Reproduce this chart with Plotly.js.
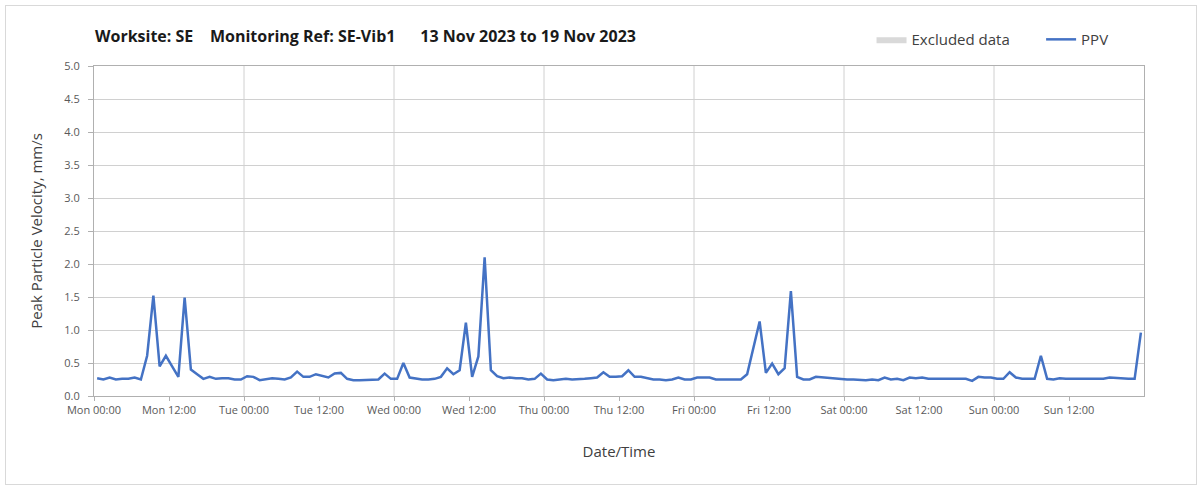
<!DOCTYPE html>
<html>
<head>
<meta charset="utf-8">
<script src="https://cdn.plot.ly/plotly-3.0.1.min.js"></script>
<style>
  html, body { margin: 0; padding: 0; background: #ffffff; }
  #wrap { position: relative; width: 1203px; height: 490px; }
  #chart { position: absolute; left: 0; top: 0; width: 1203px; height: 490px; }
  #frame { position: absolute; left: 5px; top: 5px; width: 1190px; height: 478px; border: 1px solid #d9d9d9; pointer-events: none; }
</style>
</head>
<body>
<div id="wrap"><div id="chart"></div><div id="frame"></div></div>
<script>
// Hourly PPV readings, Mon 13 Nov 2023 00:30 onwards (one value per hour)
const startTime = '2023-11-13T00:30:00Z';
const ppvMon = [0.27,0.25,0.28,0.25,0.26,0.26,0.28,0.25,0.61,1.52,0.45,0.61,0.45,0.29,1.49,0.40,0.33,0.26,0.29,0.26,0.27,0.27,0.25,0.25];
const ppvTue = [0.30,0.29,0.24,0.25,0.27,0.26,0.25,0.28,0.37,0.29,0.29,0.33,0.31,0.28,0.34,0.35,0.26,0.24,0.24,0.24,0.24,0.25,0.34,0.26];
const ppvWed = [0.26,0.50,0.28,0.26,0.25,0.25,0.26,0.29,0.42,0.33,0.39,1.11,0.29,0.60,2.10,0.39,0.30,0.27,0.28,0.27,0.27,0.25,0.26,0.34];
const ppvThu = [0.25,0.24,0.25,0.26,0.25,0.25,0.26,0.27,0.28,0.36,0.29,0.29,0.30,0.39,0.29,0.29,0.27,0.25,0.25,0.24,0.25,0.28,0.25,0.25];
const ppvFri = [0.28,0.28,0.28,0.25,0.25,0.25,0.25,0.25,0.33,0.75,1.13,0.35,0.49,0.33,0.42,1.59,0.29,0.25,0.25,0.29,0.28,0.27,0.26,0.26];
const ppvSat = [0.25,0.25,0.24,0.24,0.25,0.24,0.28,0.25,0.26,0.24,0.28,0.27,0.28,0.26,0.26,0.26,0.26,0.27,0.27,0.26,0.23,0.29,0.28,0.28];
const ppvSun = [0.26,0.26,0.36,0.28,0.26,0.26,0.26,0.61,0.26,0.25,0.27,0.26,0.26,0.27,0.27,0.27,0.26,0.26,0.28,0.27,0.26,0.26,0.26,0.96];
const days = ['2023-11-13','2023-11-14','2023-11-15','2023-11-16','2023-11-17','2023-11-18','2023-11-19'];
const tickHours = ['00:00', '12:00'];
const titleText = 'Worksite: SE\u00a0\u00a0\u00a0\u00a0Monitoring Ref: SE-Vib1\u00a0\u00a0\u00a0\u00a0\u00a0\u00a013 Nov 2023 to 19 Nov 2023';

const ppv = [].concat(ppvMon, ppvTue, ppvWed, ppvThu, ppvFri, ppvSat, ppvSun);
const t0 = Date.parse(startTime);
function fmt(ms) {
  const d = new Date(ms);
  const p = n => String(n).padStart(2, '0');
  return d.getUTCFullYear() + '-' + p(d.getUTCMonth() + 1) + '-' + p(d.getUTCDate()) + ' ' + p(d.getUTCHours()) + ':' + p(d.getUTCMinutes());
}
const times = ppv.map((v, i) => fmt(t0 + i * 3600000));
const tickVals = [];
days.forEach(d => tickHours.forEach(h => tickVals.push(d + ' ' + h)));

const FONT = '"Open Sans", "Noto Sans", sans-serif';
const legendFont = { family: FONT, size: 15, color: '#404040' };

const traces = [
  {
    type: 'scatter', mode: 'lines', name: 'Excluded data', legend: 'legend',
    x: [null], y: [null], fill: 'toself', fillcolor: '#d9d9d9',
    line: { width: 0, color: '#d9d9d9' }, showlegend: true, hoverinfo: 'skip'
  },
  {
    type: 'scatter', mode: 'lines', name: 'PPV', legend: 'legend2',
    x: times, y: ppv,
    line: { color: '#4472C4', width: 2.5 }
  }
];

const shapes = days.slice(1).map(d => ({
  type: 'line', xref: 'x', yref: 'paper', x0: d, x1: d, y0: 0, y1: 1,
  line: { color: '#d0d0d0', width: 1 }, layer: 'below'
}));

const layout = {
  width: 1203, height: 490,
  paper_bgcolor: '#ffffff', plot_bgcolor: '#ffffff',
  margin: { l: 94, r: 59, t: 66, b: 94, autoexpand: false },
  font: { family: FONT, color: '#404040' },
  title: {
    text: '<b>' + titleText + '</b>',
    x: 95 / 1203, xanchor: 'left', xref: 'container',
    y: 1 - 36 / 490, yanchor: 'middle', yref: 'container',
    font: { family: FONT, size: 16, color: '#1a1a1a' }
  },
  showlegend: true,
  legend: {
    orientation: 'h', x: 0.7405, xanchor: 'left', y: 1.08, yanchor: 'middle',
    font: legendFont, bgcolor: 'rgba(0,0,0,0)'
  },
  legend2: {
    orientation: 'h', x: 0.902, xanchor: 'left', y: 1.08, yanchor: 'middle',
    font: legendFont, bgcolor: 'rgba(0,0,0,0)'
  },
  xaxis: {
    type: 'date',
    range: ['2023-11-13 00:00', '2023-11-20 00:00'],
    tickmode: 'array', tickvals: tickVals,
    tickformat: '%a %H:%M',
    showgrid: false, zeroline: false,
    showline: true, linecolor: '#b0b0b0', linewidth: 1, mirror: true,
    ticks: 'outside', ticklen: 4, tickcolor: '#b0b0b0',
    tickfont: { family: FONT, size: 11, color: '#595959' },
    title: { text: 'Date/Time', font: { family: FONT, size: 15, color: '#404040' }, standoff: 30 }
  },
  yaxis: {
    range: [0, 5], dtick: 0.5, tickformat: '.1f',
    showgrid: true, gridcolor: '#d0d0d0', gridwidth: 1, zeroline: false,
    showline: true, linecolor: '#b0b0b0', linewidth: 1, mirror: true,
    ticks: 'outside', ticklen: 5, tickcolor: '#b0b0b0',
    ticklabelstandoff: 6,
    tickfont: { family: FONT, size: 11, color: '#595959' },
    title: { text: 'Peak Particle Velocity, mm/s', font: { family: FONT, size: 15, color: '#404040' }, standoff: 18 }
  },
  shapes: shapes,
  hovermode: false
};

Plotly.newPlot('chart', traces, layout, { displayModeBar: false, staticPlot: true });
</script>
</body>
</html>
